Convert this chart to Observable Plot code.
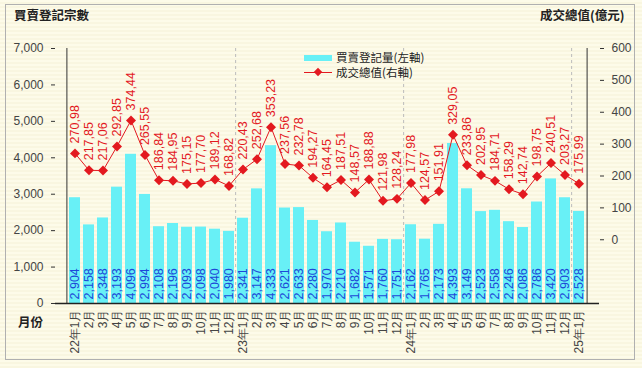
<!DOCTYPE html>
<html><head><meta charset="utf-8">
<script src="https://cdn.jsdelivr.net/npm/d3@7"></script>
<script src="https://cdn.jsdelivr.net/npm/@observablehq/plot@0.6"></script>
<style>
html,body{margin:0;padding:0;background:#fdfbe8;}
#wrap{position:relative;width:642px;height:368px;overflow:hidden;
 background:repeating-linear-gradient(#fdfbe9 0 2px,#f9f6e0 2px 4px);
 font-family:"Liberation Sans",Arial,sans-serif;}
#border{position:absolute;left:5px;top:4px;width:630px;height:356px;border:1px solid #b0b0b0;box-sizing:border-box;pointer-events:none;}
.t{position:absolute;font-family:"Noto Sans CJK TC",sans-serif;font-weight:bold;font-size:12.5px;color:#222;white-space:nowrap;line-height:1;}
.lg{position:absolute;font-family:"Noto Sans CJK TC",sans-serif;font-size:11.5px;color:#222;white-space:nowrap;line-height:1;}
svg{position:absolute;left:0;top:0;}
</style></head>
<body><div id="wrap"></div>
<script>
const months = ["22年1月","2月","3月","4月","5月","6月","7月","8月","9月","10月","11月","12月",
 "23年1月","2月","3月","4月","5月","6月","7月","8月","9月","10月","11月","12月",
 "24年1月","2月","3月","4月","5月","6月","7月","8月","9月","10月","11月","12月",
 "25年1月"];
const registrations = [2904,2158,2348,3193,4096,2994,2108,2196,2093,2098,2040,1980,
 2341,3147,4333,2621,2633,2280,1970,2210,1682,1571,1760,1751,
 2162,1765,2173,4393,3149,2523,2558,2246,2086,2786,3420,2903,
 2528];
const totalValue = [270.98,217.85,217.06,292.85,374.44,265.55,186.84,184.95,175.15,177.70,189.12,168.82,
 220.43,252.68,353.23,237.56,232.78,194.27,164.45,187.51,148.57,188.88,121.98,128.24,
 177.98,124.57,151.91,329.05,233.86,202.95,184.71,158.29,142.74,198.75,240.51,203.27,
 175.99];
const leftTicks = [0,1000,2000,3000,4000,5000,6000,7000];
const rightTicks = [0,100,200,300,400,500,600];
const yearStarts = [12,24,36];
const leftTitle = "買賣登記宗數";
const rightTitle = "成交總值(億元)";
const xTitle = "月份";
const seriesNames = ["買賣登記量(左軸)","成交總值(右軸)"];

const data = months.map((m,i)=>({i, m, reg: registrations[i], val: totalValue[i]}));
// right axis domain [-200, 600] mapped onto left [0, 7000]
const toLeft = v => (v + 200) * 7000 / 800;
const fromLeft = y => y * 800 / 7000 - 200;

const W = 642, H = 368, ML = 55, MR = 43, MT = 48, MB = 65;
const nb = months.length, pIn = 0.2, pOut = 0.05;
const step = (W - ML - MR) / (nb - pIn + 2 * pOut);

const red = "#e3191f", cyan = "#68f0f6", blue = "#1e48d8";
const fmtDec = v => v.toFixed(2).replace(".", ",");

const chart = Plot.plot({
  width: W, height: H,
  marginLeft: ML, marginRight: MR, marginTop: MT, marginBottom: MB,
  style: {background: "transparent", fontFamily: "'Liberation Sans',Arial,sans-serif", fontSize: "12px", color: "#444"},
  x: {type: "band", domain: d3.range(nb), paddingInner: pIn, paddingOuter: pOut},
  y: {domain: [0, 7000]},
  marks: [
    Plot.ruleX(yearStarts, {x: d => d, dx: -step / 2, y1: 0, y2: 7000, stroke: "#bbb", strokeDasharray: "3,3", strokeWidth: 1}),
    Plot.barY(data, {x: "i", y: "reg", fill: cyan}),
    Plot.text(data, {x: "i", y: 0, text: d => d3.format(",")(d.reg), rotate: -90, textAnchor: "start", lineAnchor: "middle", dy: -4, fill: blue, fontSize: 12.5}),
    Plot.line(data, {x: "i", y: d => toLeft(d.val), stroke: red, strokeWidth: 1}),
    Plot.dot(data, {x: "i", y: d => toLeft(d.val), symbol: "diamond2", r: 4.5, fill: red, stroke: "none"}),
    Plot.text(data, {x: "i", y: d => toLeft(d.val), text: d => fmtDec(d.val), rotate: -90, textAnchor: "start", lineAnchor: "middle", dy: -10, fill: red, fontSize: 12.5}),
    Plot.axisY(leftTicks, {anchor: "left", tickFormat: d3.format(","), tickSize: 4, tickPadding: 8, label: null, stroke: "#333", fill: "#444"}),
    Plot.axisY(rightTicks.map(toLeft), {anchor: "right", tickFormat: d => String(Math.round(fromLeft(d))), tickSize: 4, tickPadding: 8, label: null, stroke: "#333", fill: "#444"}),
    Plot.axisX({tickFormat: i => months[i], tickRotate: -90, tickSize: 0, tickPadding: 6, label: null, fill: "#444"}),
    Plot.ruleX([0], {x: 0, dx: -step * (0.5 + pOut) , y1: 0, y2: 7000, stroke: "#333"}),
    Plot.ruleX([nb - 1], {x: d => d, dx: step * (0.5 + pOut), y1: 0, y2: 7000, stroke: "#333"}),
    Plot.ruleY([0], {stroke: "#222", strokeWidth: 1.5})
  ]
});

const wrap = document.getElementById("wrap");
wrap.appendChild(chart);
function add(cls, txt, css){const d=document.createElement("div");d.className=cls;d.textContent=txt;Object.assign(d.style,css);wrap.appendChild(d);return d;}
add("t", leftTitle, {left:"14px", top:"9px"});
add("t", rightTitle, {left:"540px", top:"9px"});
add("t", xTitle, {left:"18px", top:"316px"});
// legend
const sw1=document.createElement("div");Object.assign(sw1.style,{position:"absolute",left:"304px",top:"55px",width:"28px",height:"6px",background:cyan});wrap.appendChild(sw1);
add("lg", seriesNames[0], {left:"336px", top:"52px"});
const sw2=document.createElement("div");Object.assign(sw2.style,{position:"absolute",left:"304px",top:"72px",width:"28px",height:"1px",background:red});wrap.appendChild(sw2);
const dm=document.createElement("div");Object.assign(dm.style,{position:"absolute",left:"315px",top:"69px",width:"6px",height:"6px",background:red,transform:"rotate(45deg)"});wrap.appendChild(dm);
add("lg", seriesNames[1], {left:"336px", top:"67px"});
const b=document.createElement("div");b.id="border";wrap.appendChild(b);
</script></body></html>
